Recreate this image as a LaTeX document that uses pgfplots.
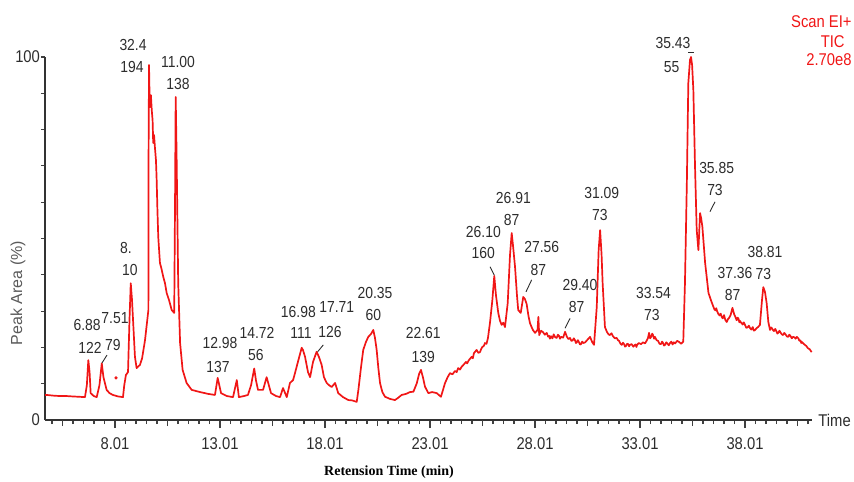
\documentclass[border=0pt]{standalone}
\usepackage{fontspec}
\setmainfont{Liberation Sans}
\newfontfamily\narrowfont[FakeStretch=0.87]{Liberation Sans}
\newfontfamily\serifbold{Liberation Serif}
\usepackage{pgfplots}
\pgfplotsset{compat=1.18}
\usepackage{pgfplotstable}
\definecolor{chrom}{RGB}{240,22,22}
\definecolor{txt}{RGB}{45,45,45}
\definecolor{ylab}{RGB}{90,90,90}

\pgfplotstableread{
t v
4.68 6.9
4.76 6.9
5.10 6.7
5.39 6.6
5.70 6.6
5.96 6.5
6.30 6.4
6.58 6.3
6.67 9.6
6.74 16.5
6.80 13.2
6.85 7.4
7.00 6.6
7.14 6.3
7.27 9.6
7.38 15.6
7.46 11.8
7.61 8.3
7.75 7.4
7.91 6.9
8.15 6.5
8.39 6.3
8.45 9.5
8.53 12.4
8.63 13.2
8.70 27.5
8.76 37.7
8.82 33.1
8.96 17.4
9.04 14.3
9.20 15.2
9.30 17.0
9.44 22.0
9.60 30.3
9.61 74.4
9.63 97.8
9.66 88.0
9.68 86.2
9.72 89.5
9.76 85.4
9.80 82.6
9.83 76.3
9.87 78.5
9.91 75.2
9.96 71.6
9.99 66.9
10.03 57.9
10.07 50.4
10.15 43.3
10.23 41.5
10.31 39.4
10.39 37.7
10.47 35.0
10.58 33.1
10.71 30.3
10.83 29.5
10.87 60.6
10.90 89.0
10.94 74.4
11.02 37.7
11.11 21.2
11.23 13.8
11.42 10.2
11.66 8.3
12.06 7.7
12.44 7.2
12.77 6.9
12.90 11.6
13.06 7.4
13.34 6.6
13.63 6.3
13.81 11.0
13.91 6.3
14.15 6.6
14.34 6.9
14.49 9.6
14.64 14.2
14.72 11.0
14.82 8.3
15.06 8.3
15.23 11.8
15.44 7.4
15.68 6.6
15.87 6.3
16.01 8.8
16.19 6.3
16.34 10.2
16.49 11.0
16.58 12.9
16.72 16.0
16.90 19.9
16.96 19.3
17.06 17.4
17.20 13.2
17.30 11.8
17.44 16.0
17.61 18.8
17.72 17.4
17.85 15.2
17.96 11.8
18.09 10.2
18.20 9.6
18.33 9.1
18.49 10.2
18.64 7.4
18.87 6.3
19.12 5.5
19.30 5.4
19.52 5.0
19.60 8.3
19.72 14.3
19.83 19.3
19.96 21.5
20.07 22.9
20.20 23.7
20.31 24.8
20.39 22.6
20.47 19.3
20.55 14.3
20.63 10.2
20.74 7.7
20.87 6.4
21.11 5.8
21.34 5.5
21.49 6.1
21.66 6.9
21.87 7.2
22.06 7.7
22.22 7.8
22.38 10.1
22.49 12.7
22.58 13.8
22.68 11.6
22.77 9.2
22.93 7.4
23.11 7.7
23.33 7.4
23.53 6.4
23.63 8.3
23.72 10.1
23.85 11.8
23.96 12.9
24.08 12.6
24.20 13.5
24.28 13.2
24.35 14.3
24.44 13.9
24.52 14.7
24.62 15.3
24.72 16.0
24.78 15.6
24.85 16.4
24.92 16.9
24.99 17.4
25.05 17.0
25.10 18.4
25.17 18.9
25.23 19.3
25.31 18.5
25.39 18.7
25.45 19.6
25.50 20.1
25.57 20.4
25.63 21.2
25.70 21.0
25.77 22.6
25.87 27.0
25.98 33.1
26.07 39.7
26.15 34.4
26.26 29.5
26.34 27.4
26.42 26.2
26.50 26.8
26.58 25.6
26.71 32.2
26.82 45.5
26.90 51.5
26.96 48.2
27.06 42.1
27.15 34.4
27.21 30.3
27.33 29.5
27.45 33.9
27.53 33.3
27.61 32.0
27.70 28.6
27.77 26.7
27.84 25.7
27.91 24.8
28.01 24.0
28.13 24.8
28.17 28.4
28.21 23.4
28.30 24.6
28.39 24.2
28.48 23.5
28.57 24.0
28.63 23.0
28.68 23.2
28.72 22.4
28.77 23.1
28.84 22.5
28.90 23.6
28.97 22.8
29.04 22.6
29.10 23.5
29.15 23.2
29.20 22.4
29.25 22.9
29.35 22.7
29.44 24.3
29.53 22.9
29.60 22.3
29.68 22.6
29.74 21.8
29.80 21.9
29.86 22.5
29.91 22.0
29.96 21.2
30.00 21.4
30.05 22.0
30.10 21.5
30.15 20.8
30.20 20.9
30.26 21.6
30.31 21.2
30.40 21.4
30.49 22.0
30.63 22.9
30.73 21.5
30.82 20.7
30.95 31.1
31.04 46.8
31.11 52.3
31.18 45.5
31.23 37.7
31.34 25.6
31.44 24.2
31.51 23.6
31.58 23.4
31.65 23.9
31.72 23.1
31.81 22.5
31.90 22.6
31.96 22.0
32.01 21.8
32.08 21.0
32.14 20.7
32.20 21.3
32.25 20.9
32.30 20.2
32.34 20.4
32.40 21.0
32.45 20.9
32.49 20.3
32.53 20.7
32.61 20.9
32.69 20.2
32.75 20.6
32.80 20.8
32.84 20.1
32.87 20.7
32.95 21.2
33.06 20.9
33.15 21.4
33.25 21.1
33.32 21.8
33.39 22.6
33.44 24.0
33.49 22.5
33.54 22.9
33.59 23.8
33.63 23.4
33.68 22.4
33.72 22.9
33.80 22.0
33.87 21.8
33.94 21.0
34.01 20.9
34.06 21.6
34.10 21.3
34.15 20.5
34.20 20.7
34.26 21.4
34.32 21.0
34.38 20.6
34.44 21.2
34.50 21.6
34.56 20.8
34.62 21.4
34.68 21.1
34.78 21.8
34.87 21.5
34.97 21.0
35.07 21.6
35.15 37.7
35.24 65.3
35.31 92.8
35.39 99.2
35.44 100
35.49 97.8
35.55 90.9
35.63 69.7
35.71 52.3
35.79 46.8
35.87 57.0
35.92 55.6
35.98 53.2
36.11 43.3
36.27 35.0
36.40 32.8
36.51 31.1
36.56 30.4
36.60 30.2
36.64 30.8
36.68 30.0
36.74 29.2
36.80 28.8
36.85 29.3
36.90 28.4
36.95 28.0
37.01 28.9
37.07 27.6
37.14 27.0
37.20 27.8
37.25 28.1
37.33 29.0
37.41 30.9
37.49 29.2
37.55 28.4
37.61 27.5
37.66 28.2
37.70 27.9
37.74 26.9
37.77 27.3
37.84 26.7
37.90 26.3
37.95 26.9
38.01 26.2
38.07 25.4
38.13 25.5
38.19 26.0
38.25 25.3
38.31 24.9
38.38 25.6
38.43 24.6
38.49 24.8
38.56 25.3
38.63 25.6
38.72 26.2
38.82 33.1
38.88 36.6
38.96 35.3
39.04 32.2
39.12 27.0
39.20 24.8
39.25 25.5
39.30 25.2
39.35 24.7
39.39 24.5
39.45 25.1
39.50 24.5
39.55 23.8
39.59 24.0
39.65 24.6
39.70 24.1
39.76 23.6
39.82 23.4
39.88 24.0
39.95 23.5
40.01 23.0
40.07 22.9
40.12 23.5
40.18 23.1
40.24 22.5
40.29 22.9
40.36 22.8
40.42 22.4
40.48 22.9
40.55 22.5
40.60 21.8
40.65 21.9
40.69 21.2
40.72 21.5
40.80 21.0
40.86 20.7
40.93 20.4
41.00 19.8
41.09 19.5
41.18 18.7
}\chromdata

\begin{document}
\begin{tikzpicture}[
  lab/.style={font=\narrowfont\fontsize{8}{9}\selectfont, text=txt, inner sep=0pt},
  leader/.style={draw=txt, line width=0.45pt}]
\begin{axis}[
  at={(0,0)}, anchor=south west,
  scale only axis, width=383.5pt, height=181.5pt,
  xmin=4.677, xmax=41.2, ymin=0, ymax=100,
  axis x line=bottom, axis y line=left,
  axis line style={-, draw=black!80, line width=0.7pt},
  tick align=outside,
  major tick length=4pt, minor tick length=2pt,
  tick style={draw=black!75, line width=0.55pt},
  xtick={8.01,13.01,18.01,23.01,28.01,33.01,38.01},
  xticklabels={8.01,13.01,18.01,23.01,28.01,33.01,38.01},
  minor xtick={5.01,5.51,6.01,6.51,7.01,7.51,8.51,9.01,9.51,10.01,11.01,11.51,12.01,12.51,13.51,14.01,14.51,15.01,16.01,16.51,17.01,17.51,18.51,19.01,19.51,20.01,21.01,21.51,22.01,22.51,23.51,24.01,24.51,25.01,26.01,26.51,27.01,27.51,28.51,29.01,29.51,30.01,31.01,31.51,32.01,32.51,33.51,34.01,34.51,35.01,36.01,36.51,37.01,37.51,38.51,39.01,39.51,40.01,41.01},
  extra x ticks={5.51,10.51,15.51,20.51,25.51,30.51,35.51,40.51},
  extra x tick labels={},
  extra x tick style={major tick length=3pt},
  ytick={0,100}, yticklabels={0,100},
  minor ytick={10,20,30,40,50,60,70,80,90,100},
  major y tick style={draw=none},
  xticklabel style={font=\narrowfont\fontsize{8.5}{9}\selectfont, text=txt, yshift=-1.5pt},
  yticklabel style={font=\narrowfont\fontsize{8.5}{9}\selectfont, text=txt, xshift=5pt},
  clip=false,
]
\addplot[chrom, line width=0.85pt, line join=round] table[x=t, y=v] {\chromdata};
\addplot[only marks, mark=*, mark size=0.6pt, chrom] coordinates {(8.06,11.6)};

% peak annotations
\node[lab] at (8.87,103.3) {32.4};
\node[lab] at (8.82,97.2) {194};
\node[lab] at (11.01,98.6) {11.00};
\node[lab] at (11.01,92.6) {138};
\node[lab] at (8.53,47.4) {8.};
\node[lab] at (8.72,41.3) {10};
\node[lab] at (6.68,26.2) {6.88};
\node[lab] at (6.82,19.8) {122};
\node[lab] at (8.01,28.1) {7.51};
\node[lab] at (7.91,20.7) {79};
\draw[leader] (7.63,17.9) -- (7.39,15.7);
\node[lab] at (13.01,21.2) {12.98};
\node[lab] at (12.91,14.6) {137};
\node[lab] at (14.77,24.0) {14.72};
\node[lab] at (14.72,17.9) {56};
\node[lab] at (16.74,29.8) {16.98};
\node[lab] at (16.87,24.0) {111};
\node[lab] at (18.57,31.2) {17.71};
\node[lab] at (18.25,24.3) {126};
\draw[leader] (17.93,20.7) -- (17.66,18.8);
\node[lab] at (20.39,34.9) {20.35};
\node[lab] at (20.31,28.9) {60};
\node[lab] at (22.69,23.9) {22.61};
\node[lab] at (22.69,17.4) {139};
\node[lab] at (25.55,51.9) {26.10};
\node[lab] at (25.55,45.9) {160};
\draw[leader] (25.87,42.2) -- (26.07,39.9);
\node[lab] at (26.98,61.1) {26.91};
\node[lab] at (26.90,55.1) {87};
\node[lab] at (28.33,47.7) {27.56};
\node[lab] at (28.17,41.3) {87};
\draw[leader] (27.85,38.6) -- (27.58,35.3);
\node[lab] at (30.15,37.2) {29.40};
\node[lab] at (29.99,31.2) {87};
\draw[leader] (29.68,28.0) -- (29.44,25.3);
\node[lab] at (31.19,62.6) {31.09};
\node[lab] at (31.10,56.5) {73};
\node[lab] at (33.65,34.9) {33.54};
\node[lab] at (33.57,28.9) {73};
\node[lab] at (34.58,103.8) {35.43};
\node[lab] at (34.52,97.3) {55};
\draw[leader] (35.30,101.2) -- (35.60,101.2);
\node[lab] at (36.66,69.3) {35.85};
\node[lab] at (36.58,63.4) {73};
\draw[leader] (36.58,60.1) -- (36.34,57.4);
\node[lab] at (37.53,40.4) {37.36};
\node[lab] at (37.42,34.4) {87};
\node[lab] at (38.96,46.4) {38.81};
\node[lab] at (38.88,40.2) {73};
\end{axis}

% axis descriptions
\node[rotate=90, font=\fontsize{8}{9}\selectfont, text=ylab] at (-13.5pt,63.5pt) {Peak Area (\%)};
\node[font=\serifbold\bfseries\fontsize{7}{8}\selectfont, text=black] at (172pt,-26pt) {Retension Time (min)};
\node[anchor=west, font=\narrowfont\fontsize{8.5}{9}\selectfont, text=txt, inner sep=0pt] at (386.5pt,0pt) {Time};
% instrument info (top right)
\node[anchor=east, font=\narrowfont\fontsize{8.5}{9}\selectfont, text=chrom, inner sep=0pt] at (403.5pt,199pt) {Scan EI+};
\node[anchor=east, font=\narrowfont\fontsize{8.5}{9}\selectfont, text=chrom, inner sep=0pt] at (400pt,189.2pt) {TIC};
\node[anchor=east, font=\narrowfont\fontsize{8.5}{9}\selectfont, text=chrom, inner sep=0pt] at (403.5pt,180pt) {2.70e8};

\pgfresetboundingbox
\path[use as bounding box] (-22.5pt,-30.5pt) rectangle (404.5pt,210pt);
\end{tikzpicture}
\end{document}
